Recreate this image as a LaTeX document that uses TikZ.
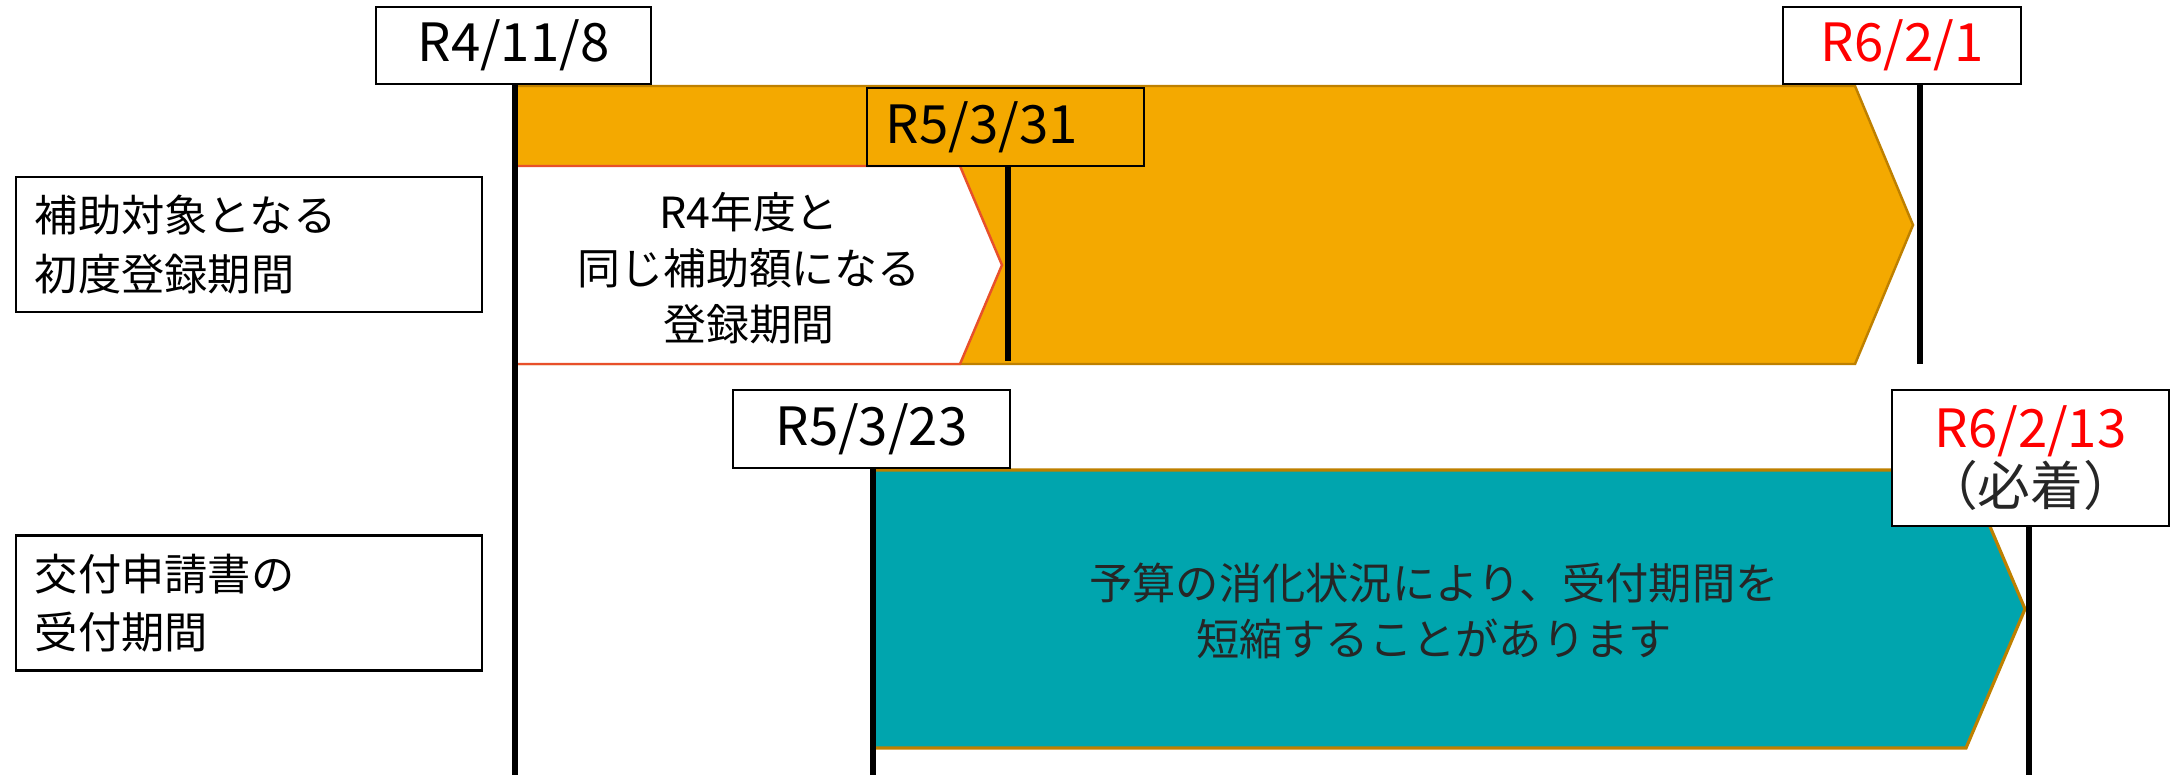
\documentclass[tikz,border=0pt]{standalone}
\usepackage{fontspec}
\setmainfont{Noto Sans CJK JP}
\definecolor{orangec}{RGB}{244,169,0}
\definecolor{orangeb}{RGB}{190,128,0}
\definecolor{redb}{RGB}{232,80,42}
\definecolor{tealc}{RGB}{0,165,174}
\definecolor{tealb}{RGB}{190,128,0}
\definecolor{darktext}{RGB}{38,38,38}
\definecolor{datered}{RGB}{255,0,0}
\begin{document}
\begin{tikzpicture}[x=0.01cm,y=-0.01cm,
  datebox/.style={draw=black, line width=0.7pt, fill=white, inner sep=0pt, align=center,
    font=\fontsize{15}{16.3}\selectfont},
  labelbox/.style={draw=black, line width=0.7pt, fill=white, inner ysep=0pt, inner xsep=0.19cm,
    text width=4.28cm, minimum height=1.35cm, align=left,
    font=\fontsize{12.3}{16.6}\selectfont},
  vline/.style={line width=1.5pt, line cap=butt, draw=black},
  bararrow/.style={line width=0.7pt, line join=miter}
]
\useasboundingbox (0,0) rectangle (2182,775);

% orange arrow
\draw[bararrow, fill=orangec, draw=orangeb] (515,86) -- (1855,86) -- (1913,225) -- (1855,364) -- (515,364) -- cycle;
% white arrow
\draw[bararrow, fill=white, draw=redb] (515,166) -- (960,166) -- (1002,265) -- (960,364) -- (515,364) -- cycle;
\node[align=center, font=\fontsize{12.2}{16}\selectfont] (wtxt) at (749,268) {R4年度と\\同じ補助額になる\\登録期間};
% teal arrow
\draw[bararrow, line width=0.9pt, fill=tealc, draw=tealb] (874,470) -- (1966,470) -- (2025,609) -- (1966,748) -- (874,748) -- cycle;
\node[align=center, text=darktext, font=\fontsize{12.3}{16}\selectfont] (ttxt) at (1434,611) {予算の消化状況により、受付期間を\\短縮することがあります};

% left labels
\node[labelbox] (l1) at (249,244.5) {補助対象となる\\初度登録期間};
\node[labelbox] (l2) at (249,603) {交付申請書の\\受付期間};

% date boxes
\node[datebox, minimum width=2.75cm, minimum height=0.77cm] (d1) at (513.5,45.5) {R4/11/8};
\node[datebox, fill=none, text width=2.39cm, inner xsep=0.19cm, align=left, minimum height=0.78cm] (d2) at (1005.5,127) {R5/3/31};
\node[datebox, minimum width=2.38cm, minimum height=0.77cm, text=datered] (d3) at (1902,45.5) {R6/2/1};
\node[datebox, minimum width=2.77cm, minimum height=0.78cm] (d4) at (871.5,429) {R5/3/23};
\node[datebox, minimum width=2.77cm, minimum height=1.36cm] (d5) at (2030.5,458) {\textcolor{datered}{R6/2/13}\\\textcolor{darktext}{（必着）}};

% line ends
\coordinate (e1) at (515,775);
\coordinate (e2) at (1008,361);
\coordinate (e3) at (1920,364);
\coordinate (e4) at (873,775);
\coordinate (e5) at (2029,775);

\draw[vline] (d1.south -| e1) -- (e1);
\draw[vline] (d2.south -| e2) -- (e2);
\draw[vline] (d3.south -| e3) -- (e3);
\draw[vline] (d4.south -| e4) -- (e4);
\draw[vline] (d5.south -| e5) -- (e5);
\end{tikzpicture}
\end{document}
